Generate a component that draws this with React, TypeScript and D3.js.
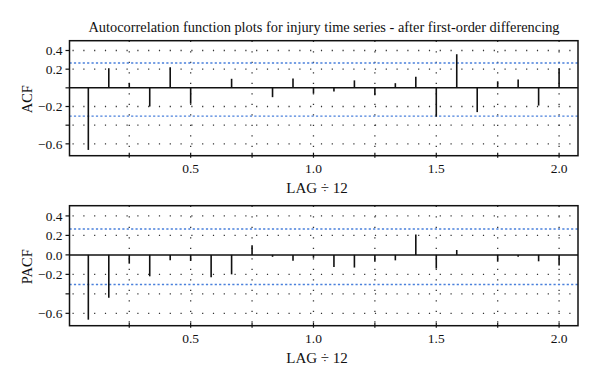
import * as d3 from "d3";

// lags are k/12, k = 1..24
const lags = d3.range(1, 25).map((k) => k / 12);

const acfValues = [
  -0.665, 0.21, 0.05, -0.2, 0.22, -0.17, 0.0, 0.097, 0.01, -0.1, 0.1, -0.06,
  -0.04, 0.08, -0.08, 0.05, 0.12, -0.31, 0.36, -0.26, 0.07, 0.09, -0.19, 0.21,
];
const pacfValues = [
  -0.665, -0.44, -0.09, -0.22, -0.056, -0.063, -0.23, -0.2, 0.1, -0.02, -0.06,
  -0.03, -0.125, -0.13, -0.07, -0.056, 0.21, -0.14, 0.05, 0.0, -0.07, -0.02,
  -0.066, -0.11,
];

const ciUpper = 0.266;
const ciLower = -0.304;

const yTicks = [0.4, 0.2, 0, -0.2, -0.4, -0.6];
const acfYLabels = ["0.4", "0.2", "", "\u22120.2", "", "\u22120.6"];
const pacfYLabels = ["0.4", "0.2", "0.0", "\u22120.2", "", "\u22120.6"];
const xTicks = [0.25, 0.5, 0.75, 1, 1.25, 1.5, 1.75, 2];
const xLabelTicks = [0.5, 1.0, 1.5, 2.0];

const title =
  "Autocorrelation function plots for injury time series - after first-order differencing";
const xTitle = "LAG \u00f7 12";

const W = 600;
const H = 384;
const left = 69.5;
const right = 578;
const font = "'Liberation Serif', 'Times New Roman', serif";

const panels = [
  { name: "ACF", values: acfValues, labels: acfYLabels, top: 40.7, bottom: 155.7 },
  { name: "PACF", values: pacfValues, labels: pacfYLabels, top: 205.7, bottom: 325.7 },
];

const x = d3.scaleLinear().domain([0.0067, 2.077]).range([left, right]);

function Panel({ p }: { p: (typeof panels)[number] }) {
  const y = d3.scaleLinear().domain([-0.727, 0.505]).range([p.bottom, p.top]);
  const y0 = y(0);
  return (
    <g>
      {/* dotted grid */}
      {yTicks
        .filter((t) => t !== 0)
        .map((t) => (
          <line
            key={"gy" + t}
            x1={left + 3}
            x2={right}
            y1={y(t)}
            y2={y(t)}
            stroke="#333"
            strokeWidth={1.3}
            strokeDasharray="1.2 9.6"
          />
        ))}
      {xTicks.map((t) => (
        <line
          key={"gx" + t}
          x1={x(t)}
          x2={x(t)}
          y1={p.top}
          y2={p.bottom}
          stroke="#333"
          strokeWidth={1.3}
          strokeDasharray="1.2 9.3"
        />
      ))}
      {/* confidence bounds */}
      {[ciUpper, ciLower].map((c) => (
        <line
          key={"ci" + c}
          x1={left}
          x2={right}
          y1={y(c)}
          y2={y(c)}
          stroke="#4a80dc"
          strokeWidth={1.3}
          strokeDasharray="2.2 2.2"
        />
      ))}
      {/* zero line */}
      <line x1={left} x2={right} y1={y0} y2={y0} stroke="#111" strokeWidth={1.5} />
      {/* spikes */}
      {p.values.map((v, i) => (
        <line
          key={"b" + i}
          x1={x(lags[i])}
          x2={x(lags[i])}
          y1={y0}
          y2={y(v)}
          stroke="#111"
          strokeWidth={1.6}
        />
      ))}
      {/* box */}
      <rect
        x={left}
        y={p.top}
        width={right - left}
        height={p.bottom - p.top}
        fill="none"
        stroke="#111"
        strokeWidth={1.5}
      />
      {/* y axis */}
      {yTicks.map((t, i) => (
        <g key={"yt" + t}>
          <line x1={left - 4} x2={left} y1={y(t)} y2={y(t)} stroke="#111" strokeWidth={1.2} />
          <text
            x={left - 7}
            y={y(t)}
            dy="0.35em"
            textAnchor="end"
            fontSize={13.5}
            fontFamily={font}
            fill="#111"
          >
            {p.labels[i]}
          </text>
        </g>
      ))}
      <text
        transform={`translate(32,${(p.top + p.bottom) / 2 + 1}) rotate(-90)`}
        textAnchor="middle"
        fontSize={14.5}
        fontFamily={font}
        fill="#111"
      >
        {p.name}
      </text>
      {/* x axis */}
      {xTicks.map((t) => (
        <line
          key={"xt" + t}
          x1={x(t)}
          x2={x(t)}
          y1={p.bottom - 3}
          y2={p.bottom + 2}
          stroke="#111"
          strokeWidth={1.2}
        />
      ))}
      {xLabelTicks.map((t) => (
        <text
          key={"xl" + t}
          x={x(t)}
          y={p.bottom + 17.5}
          textAnchor="middle"
          fontSize={13.5}
          fontFamily={font}
          fill="#111"
        >
          {d3.format(".1f")(t)}
        </text>
      ))}
      <text
        x={317}
        y={p.bottom + 37}
        textAnchor="middle"
        fontSize={15}
        fontFamily={font}
        fill="#111"
      >
        {xTitle}
      </text>
    </g>
  );
}

export default function App() {
  return (
    <svg
      width={W}
      height={H}
      style={{ position: "absolute", left: 0, top: 0, background: "#fff" }}
    >
      <rect width={W} height={H} fill="#fff" />
      <text
        x={324}
        y={31.5}
        textAnchor="middle"
        fontSize={15}
        fontFamily={font}
        fill="#111"
        textLength={471}
        lengthAdjust="spacingAndGlyphs"
      >
        {title}
      </text>
      {panels.map((p) => (
        <Panel key={p.name} p={p} />
      ))}
    </svg>
  );
}
